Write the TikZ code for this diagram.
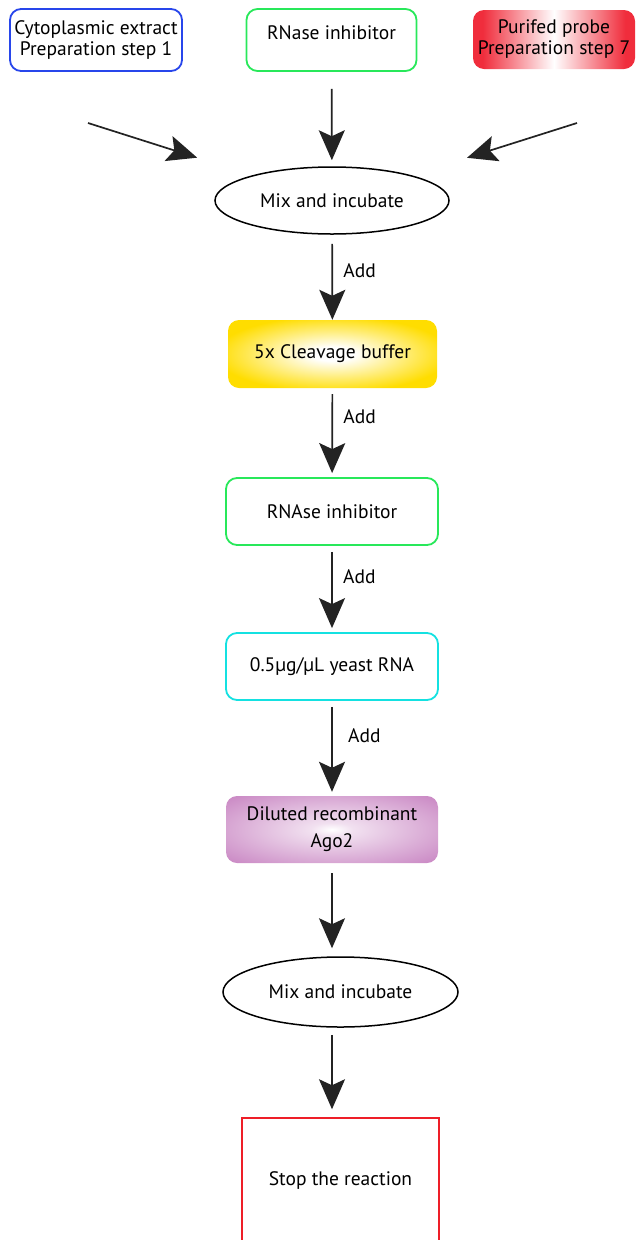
\documentclass[tikz,border=0pt]{standalone}
\usepackage{fontspec}
\setmainfont{PT Sans}
\usetikzlibrary{arrows.meta, shapes.geometric, positioning}

\definecolor{extractblue}{RGB}{40,70,235}
\definecolor{inhibgreen}{RGB}{40,232,90}
\definecolor{yeastcyan}{RGB}{20,225,225}
\definecolor{stopred}{RGB}{238,30,40}
\definecolor{probered}{RGB}{240,45,60}
\definecolor{bufferyellow}{RGB}{255,221,0}
\definecolor{agopurple}{RGB}{200,132,194}
\definecolor{flowgray}{RGB}{35,35,35}

\pgfdeclarehorizontalshading{probeglow}{100bp}{color(0bp)=(probered); color(28bp)=(probered); color(50bp)=(white); color(72bp)=(probered); color(100bp)=(probered)}
\pgfdeclareradialshading{bufferglow}{\pgfpoint{0bp}{0bp}}{color(0bp)=(white); color(5bp)=(white); color(28bp)=(bufferyellow); color(50bp)=(bufferyellow)}
\pgfdeclareradialshading{agoglow}{\pgfpoint{0bp}{0bp}}{color(0bp)=(white); color(5bp)=(agopurple!25); color(36bp)=(agopurple); color(50bp)=(agopurple)}

\begin{document}
\begin{tikzpicture}[x=1pt, y=-1pt, font=\fontsize{19.5}{21}\selectfont,
    stepbox/.style={rounded corners=11pt, inner sep=0pt, align=center},
    oval/.style={draw, line width=1.5pt, ellipse, minimum width=234pt, minimum height=67pt, inner sep=0pt},
    flow/.style={draw=flowgray, line width=1.7pt, -{Stealth[length=30pt, width=26pt, inset=6pt]}, shorten <=6pt, shorten >=4pt},
    addnote/.style={right=7pt, pos=0.42}]
    \useasboundingbox (0,0) rectangle (635,1240);
    \clip (0,0) rectangle (635,1240);

    % Add the three starting tubes
    \node[stepbox, draw=extractblue, line width=1.8pt, minimum width=172pt, minimum height=62pt] (extract) at (96,40) {Cytoplasmic extract\\Preparation step 1};
    \node[stepbox, draw=inhibgreen, line width=1.8pt, minimum width=170pt, minimum height=62pt, label={[yshift=7pt]center:RNase inhibitor}] (inhib1) at (331.5,40) {};
    \node[stepbox, shading=probeglow, minimum width=162pt, minimum height=59pt] (probe) at (554,39.5) {Purifed probe\\Preparation step 7};

    % first mixing step
    \node[oval] (mix1) at (332,200.5) {Mix and incubate};
    \coordinate (fromextract) at (88,123);
    \coordinate (fromprobe) at (577,123);
    \draw[flow, shorten <=0pt, shorten >=58pt] (fromextract) -- (mix1);
    \draw[flow, shorten <=0pt, shorten >=58pt] (fromprobe) -- (mix1);
    \draw[flow, shorten <=17pt, shorten >=6pt] (inhib1) -- (mix1);

    % Add the reagents one after the other
    \node[stepbox, shading=bufferglow, minimum width=209pt, minimum height=68pt] (buffer) at (332.5,354) {5x Cleavage buffer};
    \node[stepbox, draw=inhibgreen, line width=1.8pt, minimum width=212pt, minimum height=67pt] (inhib2) at (332,511.5) {RNAse inhibitor};
    \node[stepbox, draw=yeastcyan, line width=1.8pt, minimum width=212pt, minimum height=67pt] (yeast) at (332,666.5) {0.5µg/µL yeast RNA};
    \node[stepbox, shading=agoglow, minimum width=212pt, minimum height=67pt] (ago) at (332,829.5) {Diluted recombinant\\[6pt]Ago2};

    \draw[flow, shorten <=9pt, shorten >=0pt] (mix1) -- node[addnote] {Add} (buffer);
    \draw[flow] (buffer) -- node[addnote, pos=0.32] {Add} (inhib2);
    \draw[flow] (inhib2) -- node[addnote, pos=0.36] {Add} (yeast);
    \draw[flow] (yeast) -- node[addnote, right=12pt, pos=0.37] {Add} (ago);

    % second mixing step and stop
    \node[oval, minimum width=235pt, minimum height=70pt] (mix2) at (340.5,992) {Mix and incubate};
    \node[draw=stopred, line width=1.5pt, minimum width=197pt, minimum height=140pt, inner sep=0pt, label={[yshift=8pt]center:Stop the reaction}] (stop) at (340.5,1188) {};

    \draw[flow, shorten <=10pt, shorten >=8pt] (ago.south) -- (ago.south |- mix2.north);
    \draw[flow, shorten <=7pt, shorten >=8pt] (ago.south |- mix2.south) -- (ago.south |- stop.north);
\end{tikzpicture}
\end{document}
